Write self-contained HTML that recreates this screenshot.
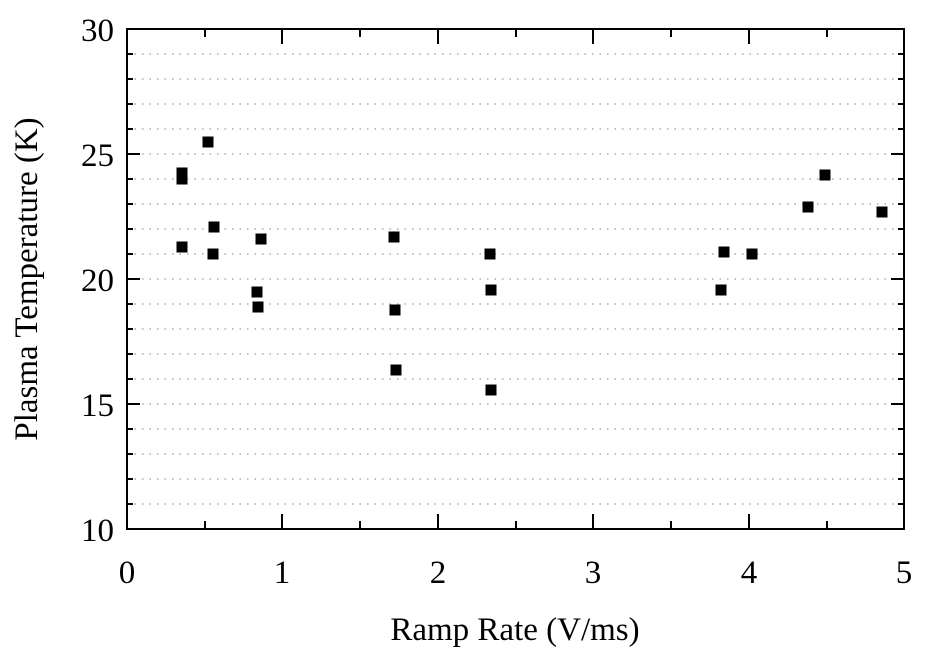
<!DOCTYPE html>
<html><head><style>body{margin:0;background:#fff}</style></head><body>
<svg width="932" height="656" xmlns="http://www.w3.org/2000/svg" font-family="Liberation Serif, serif" fill="#000">
<g stroke="#999" stroke-width="1.2" stroke-dasharray="1.5,6">
<line x1="127" x2="904" y1="54" y2="54"/><line x1="127" x2="904" y1="79" y2="79"/><line x1="127" x2="904" y1="104" y2="104"/><line x1="127" x2="904" y1="129" y2="129"/><line x1="127" x2="904" y1="154" y2="154"/><line x1="127" x2="904" y1="179" y2="179"/><line x1="127" x2="904" y1="204" y2="204"/><line x1="127" x2="904" y1="229" y2="229"/><line x1="127" x2="904" y1="254" y2="254"/><line x1="127" x2="904" y1="279" y2="279"/><line x1="127" x2="904" y1="304" y2="304"/><line x1="127" x2="904" y1="329" y2="329"/><line x1="127" x2="904" y1="354" y2="354"/><line x1="127" x2="904" y1="379" y2="379"/><line x1="127" x2="904" y1="404" y2="404"/><line x1="127" x2="904" y1="429" y2="429"/><line x1="127" x2="904" y1="454" y2="454"/><line x1="127" x2="904" y1="479" y2="479"/><line x1="127" x2="904" y1="504" y2="504"/>
</g>
<g stroke="#000" stroke-width="2" fill="none">
<rect x="127" y="29" width="777" height="500"/>
<path d="M127 54h6M127 79h6M127 104h6M127 129h6M127 154h13M127 179h6M127 204h6M127 229h6M127 254h6M127 279h13M127 304h6M127 329h6M127 354h6M127 379h6M127 404h13M127 429h6M127 454h6M127 479h6M127 504h6"/>
<path d="M904 54h-6M904 79h-6M904 104h-6M904 129h-6M904 154h-13M904 179h-6M904 204h-6M904 229h-6M904 254h-6M904 279h-13M904 304h-6M904 329h-6M904 354h-6M904 379h-6M904 404h-13M904 429h-6M904 454h-6M904 479h-6M904 504h-6"/>
<path d="M205 529v-8M282 529v-15M360 529v-8M438 529v-15M516 529v-8M593 529v-15M671 529v-8M749 529v-15M827 529v-8"/>
<path d="M205 29v8M282 29v15M360 29v8M438 29v15M516 29v8M593 29v15M671 29v8M749 29v15M827 29v8"/>
</g>
<g font-size="33" text-anchor="end">
<text x="114" y="41">30</text><text x="114" y="166">25</text><text x="114" y="291">20</text><text x="114" y="416">15</text><text x="114" y="541">10</text>
</g>
<g font-size="33" text-anchor="middle">
<text x="127" y="583">0</text><text x="282" y="583">1</text><text x="438" y="583">2</text><text x="593" y="583">3</text><text x="749" y="583">4</text><text x="904" y="583">5</text>
<text x="515" y="640">Ramp Rate (V/ms)</text>
<text transform="translate(37,279) rotate(-90)">Plasma Temperature (K)</text>
</g>
<g>
<rect x="176.5" y="241.5" width="11" height="11"/><rect x="176.5" y="167.5" width="11" height="11"/><rect x="176.5" y="173.5" width="11" height="11"/><rect x="202.5" y="136.5" width="11" height="11"/><rect x="208.5" y="221.5" width="11" height="11"/><rect x="207.5" y="248.5" width="11" height="11"/><rect x="251.5" y="286.5" width="11" height="11"/><rect x="252.5" y="301.5" width="11" height="11"/><rect x="255.5" y="233.5" width="11" height="11"/><rect x="388.5" y="231.5" width="11" height="11"/><rect x="389.5" y="304.5" width="11" height="11"/><rect x="390.5" y="364.5" width="11" height="11"/><rect x="484.5" y="248.5" width="11" height="11"/><rect x="485.5" y="284.5" width="11" height="11"/><rect x="485.5" y="384.5" width="11" height="11"/><rect x="715.5" y="284.5" width="11" height="11"/><rect x="718.5" y="246.5" width="11" height="11"/><rect x="746.5" y="248.5" width="11" height="11"/><rect x="802.5" y="201.5" width="11" height="11"/><rect x="819.5" y="169.5" width="11" height="11"/><rect x="876.5" y="206.5" width="11" height="11"/>
</g>
</svg>
</body></html>
